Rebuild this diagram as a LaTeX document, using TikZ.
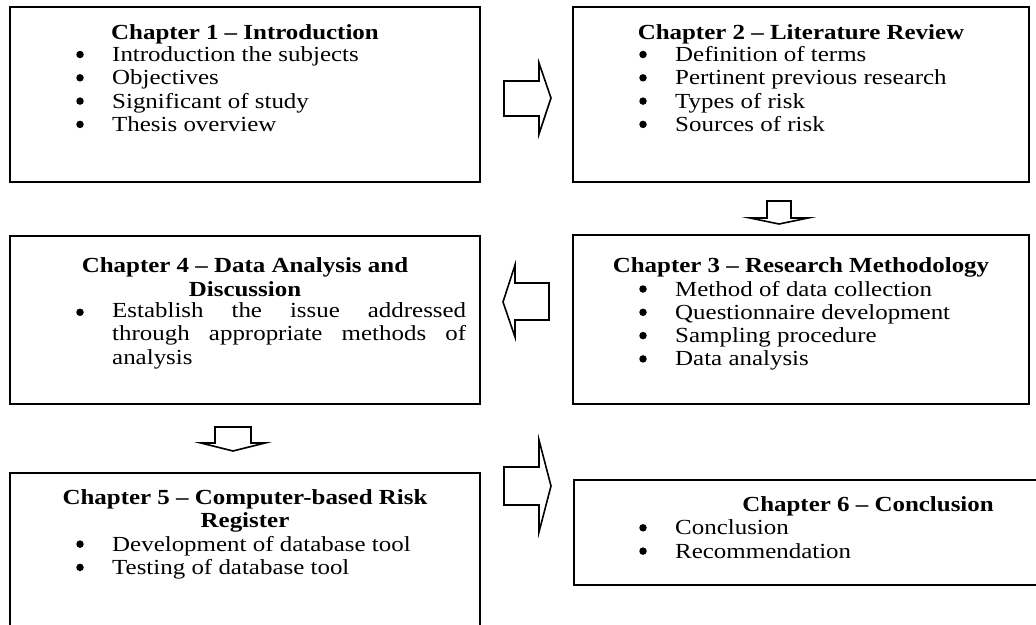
\documentclass[tikz,border=0pt]{standalone}
\usepackage{fontspec}
\setmainfont{Liberation Serif}[FakeStretch=1.16]
\begin{document}
\begin{tikzpicture}[x=1pt,y=-1pt,
  box/.style={draw, line width=1.8pt},
  arr/.style={draw, line width=1.6pt, line join=miter, fill=white},
  ttl/.style={font=\bfseries\fontsize{21.5}{23.3}\selectfont, anchor=base, inner sep=0pt},
  itm/.style={font=\fontsize{21.5}{23.3}\selectfont, anchor=base west, inner sep=0pt},
  bul/.style={circle, fill=black, inner sep=0pt, minimum size=7.5pt, yshift=7pt}]
\useasboundingbox (0,0) rectangle (1036,624);
% boxes
\draw[box] (10,7) rectangle (480,182);
\draw[box] (573,7) rectangle (1029,182);
\draw[box] (573,235) rectangle (1029,404);
\draw[box] (10,236) rectangle (480,404);
\draw[box] (10,473) rectangle (480,630);
\draw[box] (574,480) rectangle (1162,585);
% Chapter 1
\node[ttl] (t1) at (245,39) {Chapter 1 – Introduction};
\foreach \y/\t [count=\i] in {61.5/Introduction the subjects, 84.8/Objectives, 108.1/Significant of study, 131.4/Thesis overview}{
  \node[bul] (b1\i) at (80,\y) {};
  \node[itm] (i1\i) at (112,\y) {\t};
}
% Chapter 2
\node[ttl] (t2) at (801,39) {Chapter 2 – Literature Review};
\foreach \y/\t [count=\i] in {61.5/Definition of terms, 84.8/Pertinent previous research, 108.1/Types of risk, 131.4/Sources of risk}{
  \node[bul] (b2\i) at (643,\y) {};
  \node[itm] (i2\i) at (675,\y) {\t};
}
% Chapter 3
\node[ttl] (t3) at (801,272.5) {Chapter 3 – Research Methodology};
\foreach \y/\t [count=\i] in {296/Method of data collection, 319.3/Questionnaire development, 342.6/Sampling procedure, 365.9/Data analysis}{
  \node[bul] (b3\i) at (643,\y) {};
  \node[itm] (i3\i) at (675,\y) {\t};
}
% Chapter 4
\node[ttl] (t4a) at (245,272.5) {Chapter 4 – Data Analysis and};
\node[ttl] (t4b) at (245,296) {Discussion};
\node[bul] (b41) at (80,319.3) {};
\node[font=\fontsize{21.5}{23.3}\selectfont, anchor=north west, inner sep=0pt, text width=354pt, align=justify] (i41) at (112,302.3)
  {\hyphenpenalty=10000\exhyphenpenalty=10000 Establish the issue addressed through appropriate methods of analysis};
% Chapter 5
\node[ttl] (t5a) at (245,504.5) {Chapter 5 – Computer-based Risk};
\node[ttl] (t5b) at (245,527.8) {Register};
\foreach \y/\t [count=\i] in {551.1/Development of database tool, 574.4/Testing of database tool}{
  \node[bul] (b5\i) at (80,\y) {};
  \node[itm] (i5\i) at (112,\y) {\t};
}
% Chapter 6
\node[ttl] (t6) at (868,511.5) {Chapter 6 – Conclusion};
\foreach \y/\t [count=\i] in {534.8/Conclusion, 558.1/Recommendation}{
  \node[bul] (b6\i) at (643,\y) {};
  \node[itm] (i6\i) at (675,\y) {\t};
}
% block arrows
\draw[arr] (504,81) -- (539,81) -- (539,63) -- (551,98) -- (539,134) -- (539,116) -- (504,116) -- cycle;
\draw[arr] (767,201) -- (791,201) -- (791,218) -- (808,218) -- (779,224) -- (750,218) -- (767,218) -- cycle;
\draw[arr] (549,283) -- (515,283) -- (515,265) -- (503,302) -- (515,337) -- (515,320) -- (549,320) -- cycle;
\draw[arr] (215,427) -- (251,427) -- (251,443) -- (265,443) -- (233,451) -- (201,443) -- (215,443) -- cycle;
\draw[arr] (504,467) -- (539,467) -- (539,440) -- (551,486) -- (539,532) -- (539,505) -- (504,505) -- cycle;
\end{tikzpicture}
\end{document}
